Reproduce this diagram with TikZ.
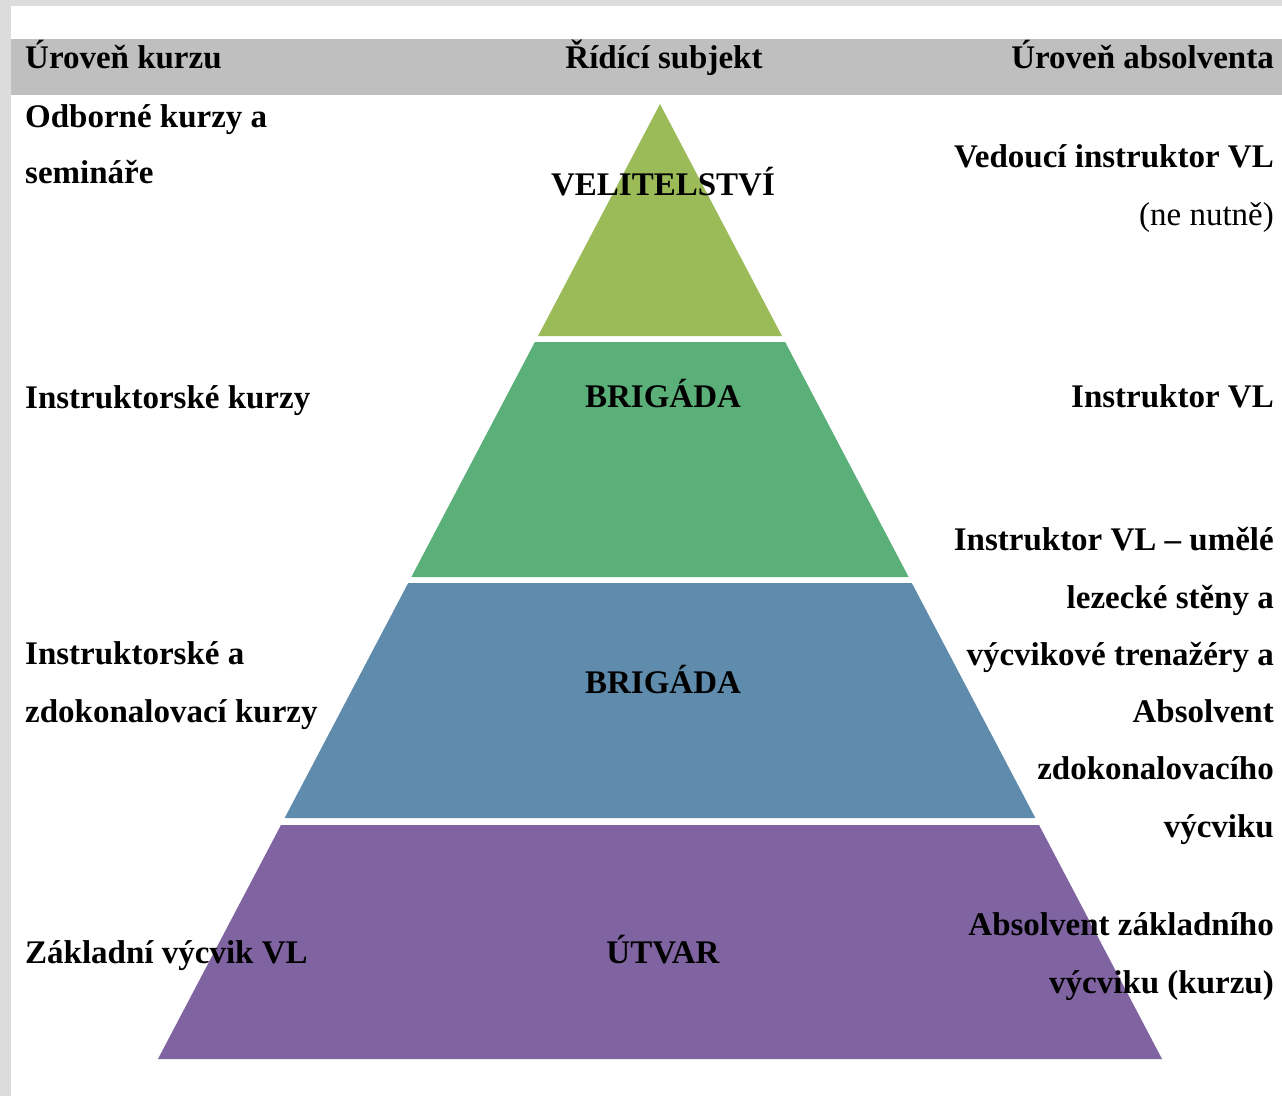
\documentclass[tikz,border=0pt]{standalone}
\usepackage{fontspec}
\setmainfont{Liberation Serif}
\definecolor{pagegray}{HTML}{DCDCDC}
\definecolor{headgray}{HTML}{BFBFBF}
\definecolor{lvlA}{HTML}{9BBB59}
\definecolor{lvlB}{HTML}{5BB07A}
\definecolor{lvlC}{HTML}{5F8CAD}
\definecolor{lvlD}{HTML}{8064A2}
\newcommand{\pyrlayer}[4]{%
  \fill[#3] ({660-(#1-104)*0.5257},#1) -- ({660+(#1-104)*0.5257},#1)
     -- ({660+(#2-104)*0.5257},#2) -- ({660-(#2-104)*0.5257},#2) -- cycle;
  \coordinate (#4) at (660,{(#1+#2)/2});}
\begin{document}
\begin{tikzpicture}[x=1pt,y=-1pt,
  txt/.style={inner sep=0pt,font=\fontsize{33}{40}\selectfont\bfseries},
  lefttxt/.style={txt,anchor=base west},
  righttxt/.style={txt,anchor=base east},
  midtxt/.style={txt,anchor=base}]
\useasboundingbox (0,0) rectangle (1282,1096);
\fill[pagegray] (0,0) rectangle (1282,1096);
\fill[white] (11,6) rectangle (1282,1096);
\fill[headgray] (11,39) rectangle (1282,95);
% pyramid
\pyrlayer{104}{336}{lvlA}{l1}
\pyrlayer{342}{577}{lvlB}{l2}
\pyrlayer{583}{818}{lvlC}{l3}
\pyrlayer{825}{1059}{lvlD}{l4}
% header
\node[lefttxt] (h1) at (25,68) {Úroveň kurzu};
\node[midtxt] (h2) at (664,68) {Řídící subjekt};
\node[righttxt] (h3) at (1274,68) {Úroveň absolventa};
% center labels
\node[midtxt] (c1) at (663,195) {VELITELSTVÍ};
\node[midtxt] (c2) at (663,407) {BRIGÁDA};
\node[midtxt] (c3) at (663,693) {BRIGÁDA};
\node[midtxt] (c4) at (663,963) {ÚTVAR};
% left labels
\node[lefttxt] (a1) at (25,127) {Odborné kurzy a};
\node[lefttxt] (a2) at (25,183) {semináře};
\node[lefttxt] (b1) at (25,408) {Instruktorské kurzy};
\node[lefttxt] (d1) at (25,664) {Instruktorské a};
\node[lefttxt] (d2) at (25,722) {zdokonalovací kurzy};
\node[lefttxt] (e1) at (25,963) {Základní výcvik VL};
% right labels
\node[righttxt] (r1) at (1274,167) {Vedoucí instruktor VL};
\node[righttxt,font=\fontsize{33}{40}\selectfont\mdseries] (r2) at (1274,225) {(ne nutně)};
\node[righttxt] (s1) at (1274,407) {Instruktor VL};
\node[righttxt] (t1) at (1274,550) {Instruktor VL – umělé};
\node[righttxt] (t2) at (1274,608) {lezecké stěny a};
\node[righttxt] (t3) at (1274,665) {výcvikové trenažéry a};
\node[righttxt] (t4) at (1274,722) {Absolvent};
\node[righttxt] (t5) at (1274,779) {zdokonalovacího};
\node[righttxt] (t6) at (1274,837) {výcviku};
\node[righttxt] (u1) at (1274,935) {Absolvent základního};
\node[righttxt] (u2) at (1274,993) {výcviku (kurzu)};
\end{tikzpicture}
\end{document}
